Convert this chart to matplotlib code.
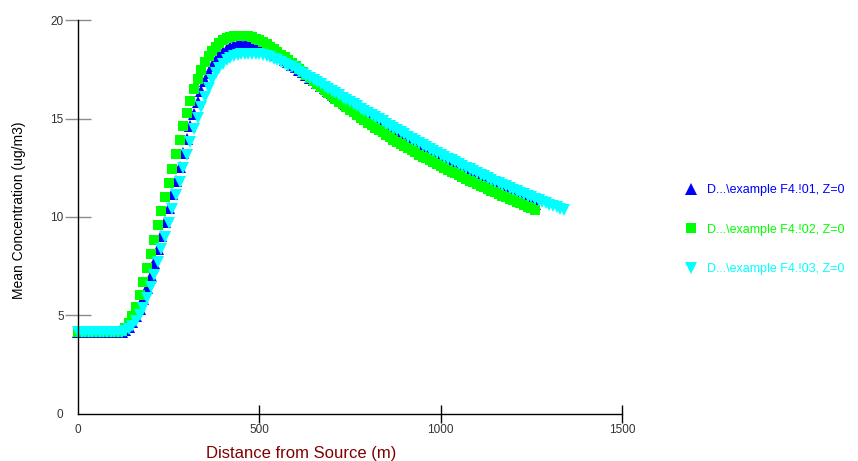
import numpy as np
import matplotlib
matplotlib.use('Agg')
import matplotlib.pyplot as plt

plt.rcParams['font.family'] = ['Liberation Sans', 'DejaVu Sans']

# mean concentration (ug/m3), one value every 10 m from the source
conc_01 = [
    4.15, 4.15, 4.15, 4.15, 4.15, 4.15, 4.15, 4.15, 4.15, 4.15,
    4.15, 4.15, 4.15, 4.25, 4.4, 4.65, 4.95, 5.35, 5.85, 6.4,
    7.0, 7.65, 8.35, 9.05, 9.75, 10.45, 11.15, 11.85, 12.55, 13.25,
    13.95, 14.6, 15.25, 15.85, 16.4, 16.9, 17.3, 17.65, 17.95, 18.2,
    18.38, 18.52, 18.63, 18.71, 18.76, 18.79, 18.8, 18.79, 18.77, 18.73,
    18.67, 18.6, 18.51, 18.42, 18.32, 18.21, 18.1, 17.98, 17.86, 17.73,
    17.6, 17.47, 17.34, 17.21, 17.08, 16.95, 16.8, 16.67, 16.54, 16.4,
    16.27, 16.14, 16.02, 15.89, 15.76, 15.64, 15.52, 15.4, 15.28, 15.16,
    15.04, 14.92, 14.8, 14.68, 14.57, 14.46, 14.34, 14.23, 14.12, 14.01,
    13.9, 13.79, 13.68, 13.58, 13.47, 13.37, 13.27, 13.17, 13.07, 12.97,
    12.87, 12.77, 12.68, 12.59, 12.5, 12.41, 12.32, 12.23, 12.14, 12.05,
    11.96, 11.87, 11.78, 11.7, 11.61, 11.53, 11.45, 11.36, 11.28, 11.2,
    11.12, 11.04, 10.96, 10.88, 10.8, 10.72, 10.64,
]
conc_02 = [
    4.15, 4.15, 4.15, 4.15, 4.15, 4.15, 4.15, 4.15, 4.15, 4.15,
    4.15, 4.15, 4.2, 4.35, 4.6, 4.95, 5.45, 6.05, 6.7, 7.4,
    8.1, 8.85, 9.6, 10.3, 11.0, 11.75, 12.45, 13.2, 13.9, 14.6,
    15.3, 15.9, 16.5, 17.0, 17.45, 17.85, 18.15, 18.42, 18.65, 18.85,
    19.0, 19.08, 19.14, 19.18, 19.2, 19.21, 19.2, 19.17, 19.12, 19.05,
    18.97, 18.87, 18.76, 18.64, 18.51, 18.38, 18.24, 18.1, 17.95, 17.8,
    17.65, 17.5, 17.35, 17.2, 17.05, 16.9, 16.75, 16.6, 16.45, 16.3,
    16.15, 16.0, 15.86, 15.72, 15.58, 15.45, 15.31, 15.18, 15.05, 14.92,
    14.79, 14.66, 14.53, 14.41, 14.29, 14.17, 14.05, 13.93, 13.82, 13.71,
    13.6, 13.49, 13.38, 13.28, 13.17, 13.07, 12.97, 12.87, 12.77, 12.67,
    12.58, 12.48, 12.39, 12.3, 12.21, 12.12, 12.03, 11.94, 11.85, 11.76,
    11.67, 11.59, 11.5, 11.42, 11.33, 11.25, 11.17, 11.09, 11.01, 10.93,
    10.85, 10.77, 10.69, 10.61, 10.53, 10.45, 10.37,
]
conc_03 = [
    4.15, 4.15, 4.15, 4.15, 4.15, 4.15, 4.15, 4.15, 4.15, 4.15,
    4.15, 4.15, 4.15, 4.2, 4.3, 4.45, 4.7, 5.0, 5.4, 5.9,
    6.45, 7.05, 7.7, 8.35, 9.0, 9.7, 10.4, 11.1, 11.8, 12.5,
    13.15, 13.8, 14.45, 15.05, 15.6, 16.1, 16.55, 16.95, 17.3, 17.55,
    17.78, 17.95, 18.07, 18.16, 18.22, 18.26, 18.28, 18.29, 18.29, 18.28,
    18.25, 18.21, 18.16, 18.1, 18.03, 17.95, 17.87, 17.78, 17.69, 17.59,
    17.49, 17.38, 17.28, 17.17, 17.06, 16.95, 16.84, 16.73, 16.62, 16.5,
    16.39, 16.28, 16.17, 16.05, 15.94, 15.83, 15.72, 15.61, 15.5, 15.39,
    15.28, 15.17, 15.06, 14.95, 14.85, 14.74, 14.63, 14.52, 14.41, 14.3,
    14.19, 14.08, 13.98, 13.87, 13.77, 13.66, 13.56, 13.46, 13.36, 13.26,
    13.16, 13.06, 12.96, 12.87, 12.78, 12.69, 12.6, 12.51, 12.42, 12.33,
    12.24, 12.15, 12.06, 11.97, 11.89, 11.8, 11.72, 11.63, 11.55, 11.47,
    11.39, 11.31, 11.23, 11.15, 11.07, 10.99, 10.91, 10.84, 10.77, 10.7,
    10.63, 10.56, 10.49, 10.42, 10.35,
]
labels = ['D...\\example F4.!01, Z=0',
          'D...\\example F4.!02, Z=0',
          'D...\\example F4.!03, Z=0']
colors = ['#0000ff', '#00ff00', '#00ffff']
markers = ['^', 's', 'v']
sizes = [8, 7, 8]
step = 10  # receptor spacing (m)

fig = plt.figure(figsize=(8.58, 4.61), dpi=100)
ax = fig.add_axes([0.0909, 0.1020, 0.6340, 0.8546])

for conc, lab, c, m, s in zip([conc_01, conc_02, conc_03], labels, colors, markers, sizes):
    dist = np.arange(len(conc)) * step
    ax.plot(dist, conc, ls='none', marker=m, ms=s, mew=0, color=c,
            label=lab, clip_on=False)

ax.set_xlim(0, 1500)
ax.set_ylim(0, 20)
ax.set_xticks([0, 500, 1000, 1500])
ax.set_yticks([0, 5, 10, 15, 20])
for sp in ['top', 'right']:
    ax.spines[sp].set_visible(False)
for sp in ['left', 'bottom']:
    ax.spines[sp].set_linewidth(1)

ax.tick_params(axis='y', direction='inout', length=18.7, width=1,
               color='#8c8c8c', labelsize=8.5, labelcolor='#333333', pad=1)
ax.tick_params(axis='x', direction='inout', length=13, width=1,
               color='black', labelsize=8.5, labelcolor='#333333', pad=1)
ax.yaxis.get_major_ticks()[0].tick1line.set_visible(False)
ax.xaxis.get_major_ticks()[0].tick1line.set_visible(False)

fig.text(19 / 858, 1 - 210 / 461, 'Mean Concentration (ug/m3)', rotation=90,
         ha='center', va='center', fontsize=10, color='black')
fig.text(301 / 858, 1 - 453 / 461, 'Distance from Source (m)',
         ha='center', va='center', fontsize=12, color='#800000')

ax.legend(loc='upper left', bbox_to_anchor=(686 / 858, 1 - 184 / 461),
          bbox_transform=fig.transFigure, frameon=False, fontsize=9,
          labelspacing=2.2, handlelength=0.8, handletextpad=0.9,
          labelcolor='linecolor', borderpad=0, borderaxespad=0, numpoints=1)

fig.savefig('out.png', dpi=100)
